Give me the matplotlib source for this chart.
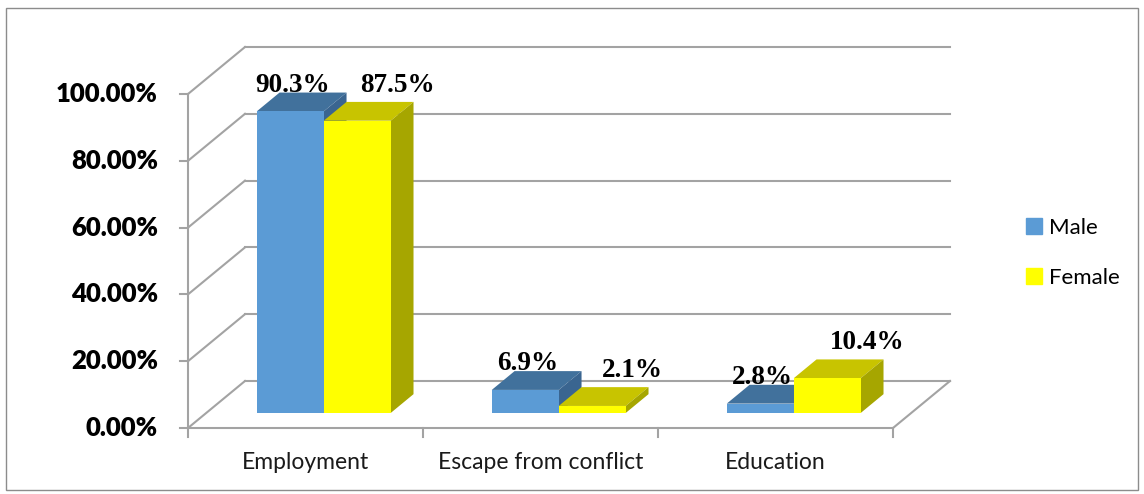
import numpy as np
import matplotlib.pyplot as plt
from matplotlib.patches import Polygon, Patch, Rectangle

# Reasons for migrating, by sex
categories = ["Employment", "Escape from conflict", "Education"]
male = [90.3, 6.9, 2.8]
female = [87.5, 2.1, 10.4]
y_ticks = [0, 20, 40, 60, 80, 100]

male_colors = ("#5b9bd5", "#41719c", "#3a6590")      # front, top, side
female_colors = ("#ffff00", "#c8c400", "#a6a600")
grid_col = "#a3a3a3"

fig = plt.figure(figsize=(11.44, 4.94), dpi=100)
ax = fig.add_axes([0, 0, 1, 1])
ax.axis("off")

# scale: one category = 235 px, 1% = 3.34 px, origin at pixel (188, 428)
PX, PY = 235.0, 3.34
ax.set_xlim(-188 / PX, (1144 - 188) / PX)
ax.set_ylim(-(494 - 428) / PY, 428 / PY)

# depth of the 3d box (back wall offset) and of the bars
DX, DY = 57 / PX, 47 / PY
F0, F1 = 0.32, 0.72
W = 0.285

# walls and gridlines
for v in y_ticks:
    ax.plot([DX, 3 + DX], [v + DY, v + DY], color=grid_col, lw=1.5, zorder=1)
    ax.plot([0, DX], [v, v + DY], color=grid_col, lw=1.5, zorder=1)
    ax.plot([-8 / PX, 0], [v, v], color=grid_col, lw=1.5, zorder=1)
    ax.text(-30 / PX, v, f"{v:.2f}%", ha="right", va="center",
            fontsize=18.5, fontweight="heavy", family="Lato", color="black")
ax.plot([0, 0], [-9 / PY, 100], color=grid_col, lw=1.5, zorder=1)
ax.plot([0, 3], [0, 0], color=grid_col, lw=1.5, zorder=1)
ax.plot([3, 3 + DX], [0, DY], color=grid_col, lw=1.5, zorder=1)
for i in range(1, 4):
    ax.plot([i, i], [0, -9 / PY], color=grid_col, lw=1.5, zorder=1)

for i, name in enumerate(categories):
    ax.text(i + 0.5, -(462 - 428) / PY, name, ha="center", va="center",
            fontsize=16.5, family="Lato", color="#1a1a1a")


def draw_bars(lefts, vals, cols, z):
    front, top, side = cols
    ax.bar(lefts + F0 * DX, vals, bottom=F0 * DY, width=W, align="edge",
           color=front, zorder=z + 0.2)
    for x, v in zip(lefts, vals):
        x0, x1 = x + F0 * DX, x + W + F0 * DX
        y0, y1 = F0 * DY, v + F0 * DY
        ddx, ddy = (F1 - F0) * DX, (F1 - F0) * DY
        ax.add_patch(Polygon([(x0, y1), (x1, y1), (x1 + ddx, y1 + ddy),
                              (x0 + ddx, y1 + ddy)], closed=True,
                             facecolor=top, edgecolor="none", zorder=z))
        ax.add_patch(Polygon([(x1, y0), (x1 + ddx, y0 + ddy),
                              (x1 + ddx, y1 + ddy), (x1, y1)], closed=True,
                             facecolor=side, edgecolor="none", zorder=z))


idx = np.arange(len(categories))
male_left = idx + 0.5 - W
female_left = idx + 0.5
draw_bars(male_left, male, male_colors, 2)
draw_bars(female_left, female, female_colors, 3)

# value labels
for x, v in zip(male_left, male):
    ax.text(x + W / 2 + F0 * DX + 0.01, v + F1 * DY + 0.3, f"{v}%",
            ha="center", va="baseline", fontsize=19.5, fontweight="bold",
            family="Liberation Serif", zorder=5)
for x, v in zip(female_left, female):
    ax.text(x + W / 2 + F0 * DX + 0.17, v + F1 * DY + 3.0, f"{v}%",
            ha="center", va="baseline", fontsize=19.5, fontweight="bold",
            family="Liberation Serif", zorder=5)

handles = [Patch(color=male_colors[0], label="Male"),
           Patch(color=female_colors[0], label="Female")]
ax.legend(handles=handles, loc="center left", bbox_to_anchor=(1006 / 1144, 1 - 253 / 494),
          frameon=False, handlelength=0.7, handleheight=0.7, handletextpad=0.35,
          labelspacing=1.35, prop={"family": "Lato", "size": 16})

fig.patches.append(Rectangle((6 / 1144, 4 / 494), 1132 / 1144, 482 / 494,
                             transform=fig.transFigure, fill=False,
                             edgecolor="#8c8c8c", lw=1))

fig.savefig("out.png", dpi=100)
